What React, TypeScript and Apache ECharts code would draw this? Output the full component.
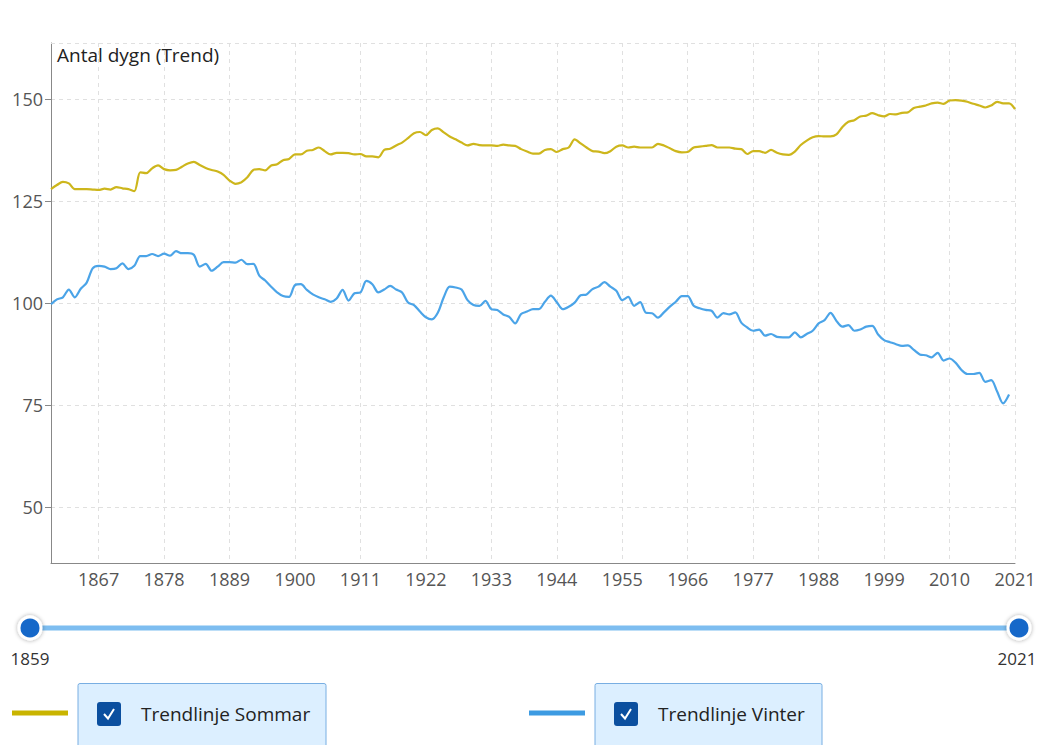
import React, { useEffect, useRef } from "react";
import * as echarts from "echarts";

const startYear = 1859;
const endYear = 2021;
const years: string[] = [];
for (let y = startYear; y <= endYear; y++) years.push(String(y));

const summerValues: number[] = [
  127.9, 128.9, 129.7, 129.3, 127.9, 127.9, 127.9, 127.8, 127.7, 128.0,
  127.8, 128.4, 128.1, 127.9, 127.4, 132.0, 131.8, 133.0, 133.7, 132.8,
  132.5, 132.6, 133.4, 134.2, 134.6, 133.8, 133.1, 132.6, 132.2, 131.4,
  130.0, 129.2, 129.6, 130.8, 132.6, 132.8, 132.5, 133.7, 134.0, 135.0,
  135.3, 136.4, 136.4, 137.3, 137.5, 138.1, 137.2, 136.4, 136.8, 136.8,
  136.7, 136.4, 136.5, 135.9, 135.9, 135.7, 137.5, 137.8, 138.6, 139.3,
  140.4, 141.6, 141.9, 141.1, 142.4, 142.8, 141.8, 140.8, 140.1, 139.3,
  138.6, 139.0, 138.7, 138.6, 138.6, 138.5, 138.8, 138.6, 138.5, 137.7,
  137.1, 136.6, 136.6, 137.5, 137.7, 137.0, 137.7, 138.1, 140.1, 139.1,
  138.1, 137.2, 137.1, 136.7, 137.2, 138.3, 138.6, 138.1, 138.3, 138.1,
  138.1, 138.1, 139.0, 138.6, 137.9, 137.2, 136.9, 137.0, 138.1, 138.3,
  138.5, 138.7, 138.1, 138.1, 138.1, 137.8, 137.7, 136.5, 137.2, 137.2,
  136.8, 137.5, 136.8, 136.4, 136.3, 137.1, 138.7, 139.8, 140.6, 140.9,
  140.8, 140.8, 141.3, 143.1, 144.4, 144.8, 145.7, 145.9, 146.5, 146.0,
  145.7, 146.3, 146.2, 146.6, 146.7, 147.8, 148.1, 148.4, 148.9, 149.1,
  148.8, 149.6, 149.7, 149.6, 149.3, 148.8, 148.4, 147.9, 148.4, 149.3,
  148.9, 148.9, 147.5
];

const winterValues: number[] = [
  99.7, 100.9, 101.4, 103.3, 101.4, 103.5, 105.0, 108.5, 109.1, 108.9,
  108.3, 108.5, 109.7, 108.3, 109.1, 111.5, 111.5, 112.0, 111.5, 112.1,
  111.6, 112.7, 112.2, 112.2, 111.8, 108.9, 109.6, 107.9, 108.9, 110.0,
  110.0, 109.9, 110.6, 109.5, 109.6, 106.7, 105.5, 104.0, 102.6, 101.7,
  101.5, 104.4, 104.6, 103.2, 102.1, 101.4, 100.9, 100.3, 101.1, 103.2,
  100.6, 102.4, 102.6, 105.4, 104.6, 102.6, 103.3, 104.2, 103.3, 102.6,
  100.1, 99.5, 97.9, 96.5, 96.0, 97.6, 101.4, 104.0, 103.8, 103.3,
  100.7, 99.5, 99.3, 100.5, 98.5, 98.3, 97.2, 96.6, 95.0, 97.3,
  97.9, 98.5, 98.5, 100.3, 101.8, 100.2, 98.5, 99.1, 100.1, 101.9,
  102.1, 103.4, 104.0, 105.1, 104.0, 103.0, 100.7, 101.5, 99.3, 100.2,
  97.6, 97.5, 96.4, 97.7, 99.1, 100.3, 101.7, 101.7, 99.3, 98.7,
  98.3, 98.1, 96.4, 97.5, 97.2, 97.7, 95.2, 94.0, 93.2, 93.5,
  92.0, 92.4, 91.7, 91.6, 91.6, 92.8, 91.6, 92.4, 93.2, 95.0,
  95.8, 97.6, 95.6, 94.2, 94.6, 93.2, 93.5, 94.2, 94.4, 92.3,
  90.9, 90.4, 89.9, 89.5, 89.6, 88.5, 87.4, 87.2, 86.7, 87.8,
  85.9, 86.4, 85.4, 83.6, 82.6, 82.6, 82.9, 80.7, 81.1, 78.3,
  75.4, 77.6
];

const yTicks = [50, 75, 100, 125, 150];
const yMin = 36.3;
const yMax = 163.7;
const firstLabelIndex = 8;
const labelStep = 11;

const seriesNames = ["Trendlinje Sommar", "Trendlinje Vinter"];
const summerColor = "#cdb61c";
const winterColor = "#4ba4e8";
const summerSwatch = "#c9b400";
const winterSwatch = "#3d9be2";
const axisTitle = "Antal dygn (Trend)";

const FONT = "'Open Sans', 'Noto Sans', sans-serif";

export default function App() {
  const ref = useRef<HTMLDivElement>(null);
  useEffect(() => {
    if (!ref.current) return;
    const chart = echarts.init(ref.current, undefined, { renderer: "svg" });
    const showIdx = (i: number) => i >= firstLabelIndex && (i - firstLabelIndex) % labelStep === 0;

    const legendItem = (x: number, swatchX: number, swatchW: number, boxW: number, color: string, name: string) => [
      {
        type: "line",
        shape: { x1: swatchX, y1: 713, x2: swatchX + swatchW, y2: 713 },
        style: { stroke: color, lineWidth: 5 },
      },
      {
        type: "rect",
        shape: { x: x, y: 683.5, width: boxW, height: 80, r: 2 },
        style: { fill: "#dcefff", stroke: "#78aee2", lineWidth: 1 },
      },
      {
        type: "rect",
        shape: { x: x + 19, y: 702, width: 24, height: 24, r: 3 },
        style: { fill: "#0b4f9f" },
      },
      {
        type: "polyline",
        shape: { points: [[x + 26, 714], [x + 30, 718.5], [x + 36, 709]] },
        style: { stroke: "#ffffff", lineWidth: 2, fill: "none" },
      },
      {
        type: "text",
        x: x + 63,
        y: 714,
        style: { text: name, fill: "#222222", font: `19px ${FONT}`, verticalAlign: "middle", textAlign: "left" },
      },
    ];

    chart.setOption({
      animation: false,
      textStyle: { fontFamily: FONT },
      title: {
        text: axisTitle,
        left: 52,
        top: 40,
        textStyle: { fontSize: 19, fontWeight: "normal", color: "#222222", fontFamily: FONT },
      },
      grid: { left: 51, right: 35, top: 43, bottom: 182 },
      xAxis: {
        type: "category",
        data: years,
        boundaryGap: false,
        axisLine: { show: true, lineStyle: { color: "#888888", width: 1 } },
        axisTick: { show: false },
        axisLabel: {
          interval: (i: number) => showIdx(i),
          color: "#555555",
          fontSize: 18,
          margin: 7,
          fontFamily: FONT,
        },
        splitLine: {
          show: true,
          interval: (i: number) => showIdx(i),
          lineStyle: { color: "#e0e0e0", type: [4, 4], width: 1 },
        },
      },
      yAxis: {
        type: "value",
        min: yMin,
        max: yMax,
        axisLine: { show: true, lineStyle: { color: "#888888", width: 1 } },
        axisTick: { show: true, length: 6, customValues: yTicks, lineStyle: { color: "#888888" } },
        axisLabel: { customValues: yTicks, color: "#555555", fontSize: 18, margin: 8, fontFamily: FONT },
        splitLine: { show: true, lineStyle: { color: "#e0e0e0", type: [4, 4], width: 1 } },
      },
      series: [
        {
          name: seriesNames[0],
          type: "line",
          data: summerValues,
          smooth: 0.3,
          showSymbol: false,
          lineStyle: { color: summerColor, width: 2.2 },
          itemStyle: { color: summerColor },
          markLine: {
            silent: true,
            symbol: "none",
            label: { show: false },
            lineStyle: { color: "#e0e0e0", type: [4, 4], width: 1 },
            data: [{ yAxis: yMax }],
          },
        },
        {
          name: seriesNames[1],
          type: "line",
          data: winterValues,
          smooth: 0.3,
          showSymbol: false,
          lineStyle: { color: winterColor, width: 2.2 },
          itemStyle: { color: winterColor },
        },
      ],
      graphic: [
        {
          type: "line",
          shape: { x1: 30, y1: 628, x2: 1019, y2: 628 },
          style: { stroke: "#7dbdf0", lineWidth: 5 },
        },
        {
          type: "circle",
          shape: { cx: 30, cy: 628, r: 11 },
          style: { fill: "#1467c9", stroke: "#ffffff", lineWidth: 3, shadowBlur: 4, shadowColor: "rgba(0,0,0,0.35)" },
        },
        {
          type: "circle",
          shape: { cx: 1019, cy: 628, r: 11 },
          style: { fill: "#1467c9", stroke: "#ffffff", lineWidth: 3, shadowBlur: 4, shadowColor: "rgba(0,0,0,0.35)" },
        },
        {
          type: "text",
          x: 30,
          y: 658,
          style: { text: years[0], fill: "#333333", font: `17px ${FONT}`, textAlign: "center", verticalAlign: "middle" },
        },
        {
          type: "text",
          x: 1017,
          y: 658,
          style: { text: years[years.length - 1], fill: "#333333", font: `17px ${FONT}`, textAlign: "center", verticalAlign: "middle" },
        },
        ...legendItem(78, 12, 56, 248, summerSwatch, seriesNames[0]),
        ...legendItem(595, 529, 56, 227, winterSwatch, seriesNames[1]),
      ],
    });
    return () => chart.dispose();
  }, []);
  return <div ref={ref} style={{ position: "absolute", left: 0, top: 0, width: 1050, height: 745 }} />;
}
